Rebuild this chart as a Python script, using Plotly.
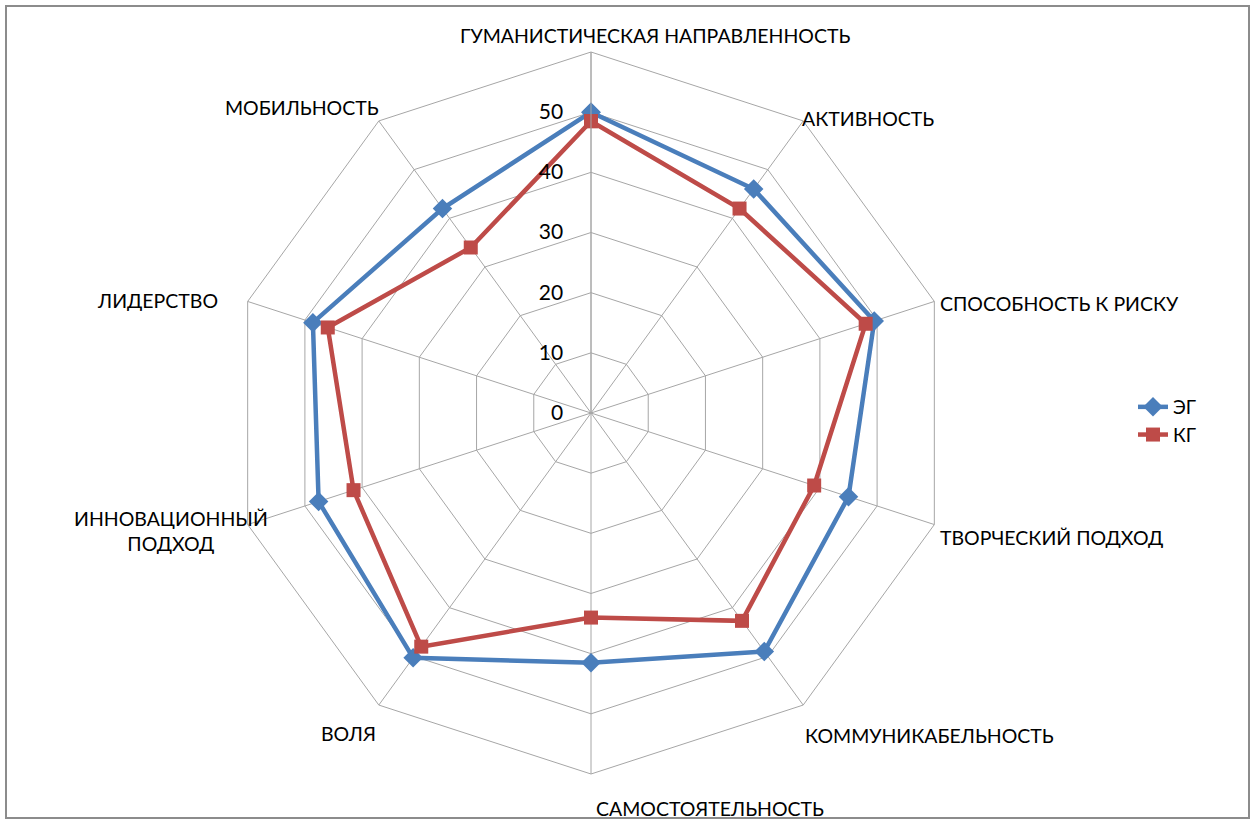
import plotly.graph_objects as go

categories = ["ГУМАНИСТИЧЕСКАЯ НАПРАВЛЕННОСТЬ", "АКТИВНОСТЬ", "СПОСОБНОСТЬ К РИСКУ",
              "ТВОРЧЕСКИЙ ПОДХОД", "КОММУНИКАБЕЛЬНОСТЬ", "САМОСТОЯТЕЛЬНОСТЬ",
              "ВОЛЯ", "ИННОВАЦИОННЫЙ<br>ПОДХОД", "ЛИДЕРСТВО", "МОБИЛЬНОСТЬ"]
eg_values = [50, 46, 49.5, 45, 49, 41.5, 50.3, 47.6, 48.6, 42]
kg_values = [48.5, 42, 48, 39, 42.7, 34, 48, 41.5, 46, 34]
radial_ticks = [0, 10, 20, 30, 40, 50]

W, H = 1257, 820
cx, cy, R = 591, 413, 361

# label placement (pixel positions of label anchor, anchor side)
label_pos = [
    (655, 35, "center"), (800, 118, "left"), (938, 303, "left"),
    (938, 537, "left"), (803, 735, "left"), (594, 808, "left"),
    (378, 733, "right"), (270, 531, "right"), (220, 300, "right"),
    (381, 107, "right"),
]

FONT = "Lato"
blue = "#4A7EBB"
red = "#BE4B48"

fig = go.Figure()
theta_closed = categories + [categories[0]]
fig.add_trace(go.Scatterpolar(
    r=eg_values + [eg_values[0]], theta=theta_closed, name="ЭГ", mode="lines+markers",
    line=dict(color=blue, width=4.5), marker=dict(symbol="diamond", size=15, color=blue)))
fig.add_trace(go.Scatterpolar(
    r=kg_values + [kg_values[0]], theta=theta_closed, name="КГ", mode="lines+markers",
    line=dict(color=red, width=4.5), marker=dict(symbol="square", size=14, color=red)))

annotations = []
for text, (px, py, side) in zip(categories, label_pos):
    annotations.append(dict(
        x=px / W, y=1 - py / H, xref="paper", yref="paper", text=text, showarrow=False,
        xanchor=side, yanchor="middle", align="center",
        font=dict(family=FONT, size=19.5, color="#000000")))

fig.update_layout(
    width=W, height=H, margin=dict(l=0, r=0, t=0, b=0),
    paper_bgcolor="white", plot_bgcolor="white",
    font=dict(family=FONT, size=19, color="#000000"),
    polar=dict(
        domain=dict(x=[(cx - R) / W, (cx + R) / W], y=[1 - (cy + R) / H, 1 - (cy - R) / H]),
        bgcolor="white",
        gridshape="linear",
        radialaxis=dict(range=[0, 60], tickvals=radial_ticks, angle=90, side="counterclockwise",
                        tickangle=90, showline=True, linecolor="#A6A6A6", linewidth=1,
                        gridcolor="#A6A6A6", gridwidth=1, ticks="outside", ticklen=20,
                        tickcolor="rgba(0,0,0,0)",
                        tickfont=dict(family=FONT, size=21, color="#000000")),
        angularaxis=dict(direction="clockwise", rotation=90, showticklabels=False,
                         ticks="", showline=True, linecolor="#A6A6A6", linewidth=1,
                         gridcolor="#A6A6A6", gridwidth=1),
    ),
    legend=dict(x=1133 / W, y=1 - 388 / H, xanchor="left", yanchor="top",
                font=dict(family=FONT, size=19), bgcolor="rgba(0,0,0,0)", tracegroupgap=0),
    annotations=annotations,
    shapes=[dict(type="rect", xref="paper", yref="paper", x0=6 / W, x1=1249 / W,
                 y0=1 - 818 / H, y1=1 - 6 / H, line=dict(color="#8C8C8C", width=2))],
)

fig.write_html("out.html")
